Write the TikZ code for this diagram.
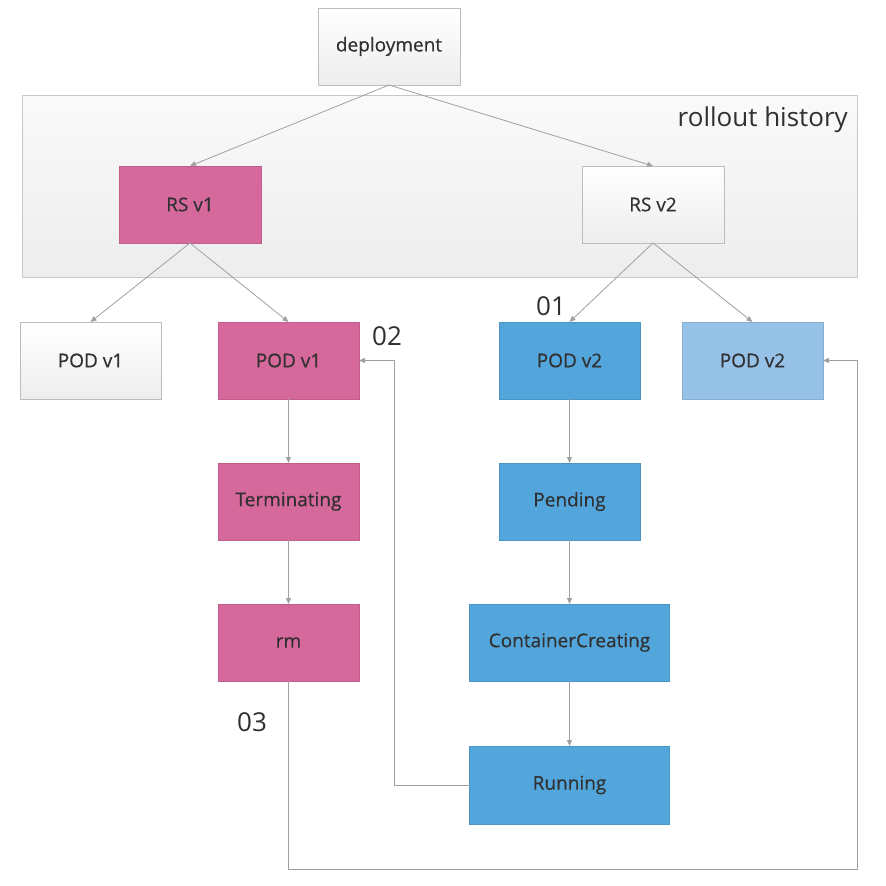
\documentclass[tikz,border=0pt]{standalone}
\usepackage{fontspec}
\setmainfont{Open Sans}
\newfontfamily\boxfont{Open Sans}[FakeBold=0.4]
\usetikzlibrary{arrows.meta}
\definecolor{pinkbox}{HTML}{D6699B}
\definecolor{pinkline}{HTML}{C25E8B}
\definecolor{bluebox}{HTML}{53A6DC}
\definecolor{blueline}{HTML}{4A95C6}
\definecolor{lblue}{HTML}{96C2E7}
\definecolor{lblueline}{HTML}{86AFD0}
\definecolor{greyline}{HTML}{BDBDBD}
\definecolor{conn}{HTML}{A0A0A0}
\definecolor{txt}{HTML}{303030}
\tikzset{
  box/.style={rectangle, minimum width=141pt, minimum height=77pt, inner sep=0pt, outer sep=0pt,
    font=\boxfont\fontsize{19}{22}\selectfont, text=txt, line width=0.8pt},
  greybox/.style={box, draw=greyline, top color=white, bottom color=black!7},
  pinkst/.style={box, draw=pinkline, fill=pinkbox},
  bluest/.style={box, draw=blueline, fill=bluebox},
  lbluest/.style={box, draw=lblueline, fill=lblue},
  arr/.style={draw=conn, line width=0.8pt, -{Triangle[length=6pt,width=5pt]}},
  num/.style={font=\fontsize{26}{30}\selectfont, text=txt, inner sep=0pt},
}
\begin{document}
\begin{tikzpicture}[x=1pt,y=-1pt]
\useasboundingbox (0,0) rectangle (886,886);
\fill[white] (0,0) rectangle (886,886);
% panel
\node[draw=black!22, line width=0.8pt, top color=black!2, bottom color=black!7, minimum width=835pt, minimum height=182pt, inner sep=0pt, outer sep=0pt] (panel) at (439.5,186) {};
\node[anchor=base east, inner sep=0pt, font=\fontsize{26}{30}\selectfont, text=txt] (hist) at (848,126) {rollout history};
% nodes
\node[greybox, minimum width=142pt] (dep) at (389,46.5) {deployment};
\node[pinkst, minimum width=142pt] (rs1) at (190,204.5) {RS v1};
\node[greybox, minimum width=142pt] (rs2) at (653,204.5) {RS v2};
\node[greybox] (podw) at (90.5,360.5) {POD v1};
\node[pinkst] (podp) at (288.5,360.5) {POD v1};
\node[bluest] (podb) at (569.5,360.5) {POD v2};
\node[lbluest] (podl) at (752.5,360.5) {POD v2};
\node[pinkst] (term) at (288.5,501.5) {Terminating};
\node[pinkst] (rm) at (288.5,642.5) {rm};
\node[bluest] (pend) at (569.5,501.5) {Pending};
\node[bluest, minimum width=200pt] (cc) at (569.5,642.5) {ContainerCreating};
\node[bluest, minimum width=200pt, minimum height=78pt] (run) at (569.5,785) {Running};
% numbers
\node[num, anchor=base west] (n01) at (536,315) {01};
\node[num, anchor=base west] (n02) at (372,345) {02};
\node[num, anchor=base west] (n03) at (237,731) {03};
% connectors
\draw[arr] (dep.south) -- (rs1.north);
\draw[arr] (dep.south) -- (rs2.north);
\draw[arr] (rs1.south) -- (podw.north);
\draw[arr] (rs1.south) -- (podp.north);
\draw[arr] (rs2.south) -- (podb.north);
\draw[arr] (rs2.south) -- (podl.north);
\draw[arr] (podp.south) -- (term.north);
\draw[arr] (term.south) -- (rm.north);
\draw[arr] (podb.south) -- (pend.north);
\draw[arr] (pend.south) -- (cc.north);
\draw[arr] (cc.south) -- (run.north);
\coordinate (r1) at (394,785);
\draw[arr] (run.west) -- (r1) |- (podp.east);
\coordinate (b1) at (288.5,869);
\coordinate (b2) at (857,869);
\draw[arr] (rm.south) -- (b1) -- (b2) |- (podl.east);
\end{tikzpicture}
\end{document}
